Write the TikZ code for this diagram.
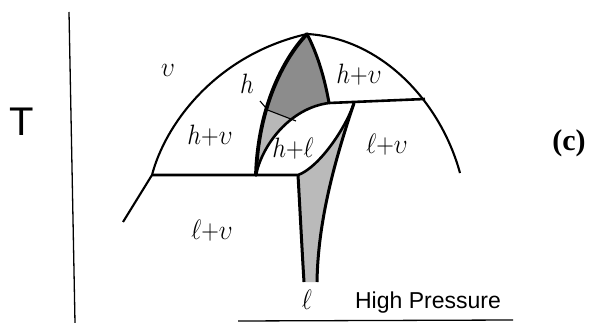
\RequirePackage{fix-cm}
\documentclass[tikz,border=0pt]{standalone}
\usepackage{fontspec}
\usepackage{graphicx}
\newfontfamily\sansfam{Liberation Sans}
\newfontfamily\seriffam{Liberation Serif}
\newcommand{\lblbox}[1]{\scalebox{1.22}[1.4]{$#1$}}
\begin{document}
\begin{tikzpicture}[x=1pt,y=-1pt,
  dome/.style={line width=2.1pt},
  heavy/.style={line width=3.8pt, line cap=round},
  medium/.style={line width=3pt},
  hline/.style={line width=2.6pt, line join=round},
  thinline/.style={line width=1.1pt},
  axis/.style={line width=1.3pt},
  lbl/.style={font=\fontsize{20}{22}\selectfont, inner sep=0pt},
  darkfill/.style={fill=black!45},
  lightfill/.style={fill=black!28},
  lfill/.style={fill=black!27}]
\useasboundingbox (0,0) rectangle (589,323);
% key points
\coordinate (top) at (307,34);
\coordinate (LL) at (123,222);
\coordinate (LH) at (152,175);
\coordinate (RE) at (460,173);
\coordinate (UR) at (425,99);
\coordinate (UM) at (329,103);
\coordinate (HL) at (256,175);
\coordinate (V) at (354,103);
\coordinate (C) at (298,175);
\coordinate (B1) at (304,282);
\coordinate (B2) at (317,282);
\coordinate (M1) at (265,109);
\coordinate (M2) at (296,121);
\coordinate (T1) at (260,101);
\coordinate (T2) at (266,108);
% shaded h region
\fill[lightfill] (top) .. controls (282,60) and (258,110) .. (HL)
   .. controls (262,145) and (290,108) .. (UM)
   .. controls (325,80) and (318,55) .. (top) -- cycle;
\begin{scope}
  \clip (top) .. controls (282,60) and (258,110) .. (HL)
   .. controls (262,145) and (290,108) .. (UM)
   .. controls (325,80) and (318,55) .. (top) -- cycle;
  \fill[darkfill] (250,103.2) -- (340,138) -- (340,20) -- (250,20) -- cycle;
\end{scope}
% shaded l region
\fill[lfill] (C) .. controls (300,210) and (302,250) .. (B1) -- (B2)
   .. controls (318,220) and (335,160) .. (V)
   .. controls (345,130) and (318,168) .. (C) -- cycle;
% dome
\draw[dome] (LL) -- (LH) .. controls (165,125) and (215,55) .. (top)
   .. controls (380,38) and (440,100) .. (RE);
% horizontal lines
\draw[hline] (LH) -- (C) .. controls (318,168) and (345,130) .. (V);
\draw[hline] (UM) -- (UR);
% h region boundaries
\draw[heavy] (top) .. controls (282,60) and (258,110) .. (HL);
\draw[medium] (top) .. controls (318,55) and (325,80) .. (UM);
\draw[hline] (HL) .. controls (262,145) and (290,108) .. (UM);
\draw[thinline] (M1) -- (M2);
\draw[thinline] (T1) -- (T2);
% l region edges
\draw[medium] (C) .. controls (300,210) and (302,250) .. (B1);
\draw[medium] (V) .. controls (335,160) and (318,220) .. (B2);
% axes
\draw[axis] (69,12) -- (75,323);
\draw[axis] (238,321) -- (513,320);
% labels
\node[lbl] (lv) at (168,70) {\lblbox{\upsilon}};
\node[lbl] (lh) at (247,84) {\lblbox{h}};
\node[lbl] (lhvr) at (359,75) {\lblbox{h{+}\upsilon}};
\node[lbl] (lhvl) at (210,136) {\lblbox{h{+}\upsilon}};
\node[lbl] (lhl) at (293,149) {\lblbox{h{+}\ell}};
\node[lbl] (llvr) at (387,145) {\lblbox{\ell{+}\upsilon}};
\node[lbl] (llvl) at (212,231) {\lblbox{\ell{+}\upsilon}};
\node[lbl] (ll) at (307,300) {\lblbox{\ell}};
\node[font=\sansfam\fontsize{23}{26}\selectfont, inner sep=0pt, anchor=base] (hp) at (428,308) {High Pressure};
\node[font=\sansfam\fontsize{40}{44}\selectfont, inner sep=0pt] (tt) at (22,122) {T};
\node[font=\seriffam\bfseries\fontsize{30}{34}\selectfont, inner sep=0pt] (cc) at (569,143) {(c)};
\end{tikzpicture}
\end{document}
